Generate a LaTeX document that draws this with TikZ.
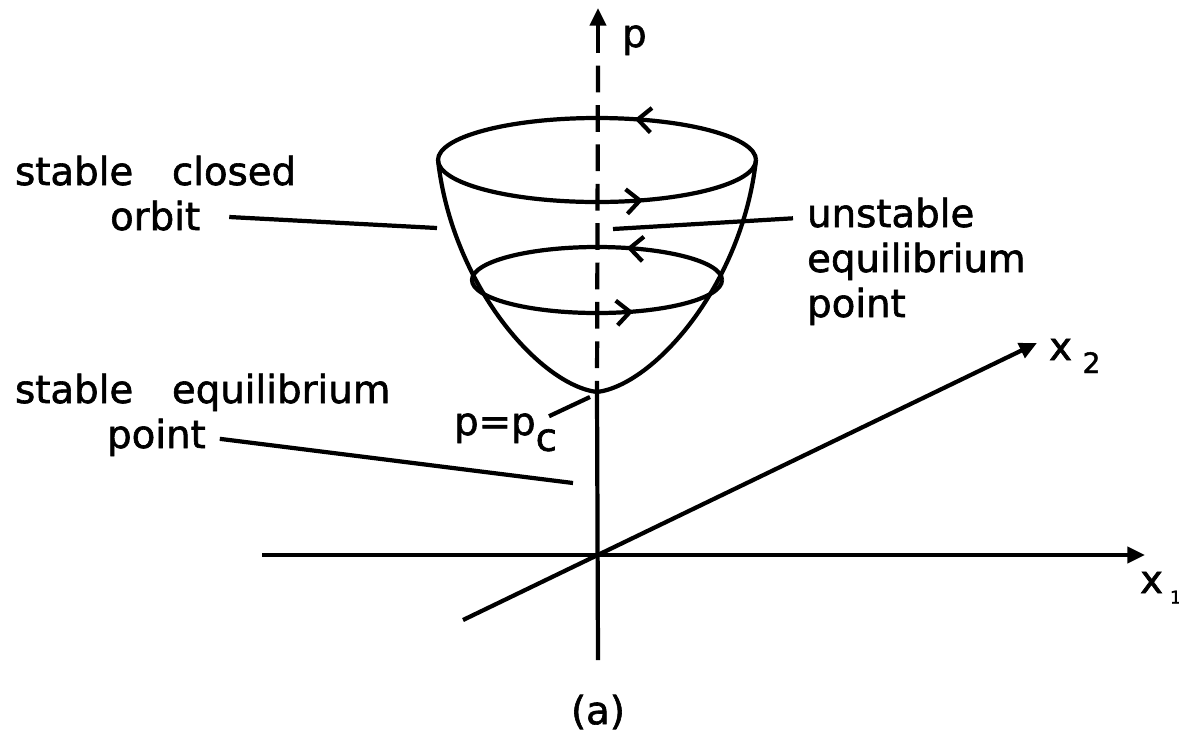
\documentclass[tikz,border=0pt]{standalone}
\usepackage{fontspec}
\newfontfamily\lettering[RawFeature={embolden=1.6}]{DejaVu Sans}
\usetikzlibrary{arrows.meta,decorations.markings}

\begin{document}
\begin{tikzpicture}[x=0.01cm, y=0.01cm, line width=1.2pt,
		txt/.style={inner sep=0pt, anchor=base west, font=\fontsize{11}{12.8}\lettering},
		axis/.style={-{Triangle[length=5pt,width=4.5pt]}},
		orbit/.style={postaction={decorate}, decoration={markings,
			mark=at position 0.195 with {\arrow{Straight Barb[length=3.8pt,width=7pt]}},
			mark=at position 0.817 with {\arrow{Straight Barb[length=3.8pt,width=7pt]}}}}]
		\useasboundingbox (0,0) rectangle (1179,750);
		
		% axes
		\coordinate (O) at (598,195);
		\coordinate (xleft) at (262,195);
		\coordinate (xright) at (1145,195);
		\coordinate (ylow) at (463,130);
		\coordinate (yhigh) at (1037,407);
		\coordinate (pbot) at (598,90);
		\coordinate (bowl) at (597,358);
		\coordinate (ptop) at (598,697);
		\coordinate (ptip) at (598,742);
		\draw[axis] (xleft) -- (xright);
		\draw[axis] (ylow) -- (yhigh);
		\draw (pbot) -- (bowl);
		\draw[dash pattern=on 7.6pt off 3.6pt, dash phase=7.6pt] (ptop) -- (bowl);
		\draw[axis] (ptop) -- (ptip);
		
		% bowl and orbits
		\coordinate (topc) at (597,590);
		\coordinate (lowc) at (597,470);
		\draw (438,590) .. controls (452,465) and (540,365) .. (bowl);
		\draw (756,590) .. controls (742,465) and (654,365) .. (bowl);
		\draw[orbit] (topc) ++(159,0) arc[start angle=0, end angle=360, x radius=159, y radius=42];
		\draw[orbit] (lowc) ++(125,0) arc[start angle=0, end angle=360, x radius=125, y radius=33];
		
		% labels
		\node[txt] (closed) at (13,565) {stable\quad closed};
		\node[txt] (orbit) at (108,520) {orbit};
		\node[txt] (stableeq) at (13,347) {stable\quad equilibrium};
		\node[txt] (spoint) at (105,302) {point};
		\node[txt] (unstable) at (805,523) {unstable};
		\node[txt] (ueq) at (805,478) {equilibrium};
		\node[txt] (upoint) at (805,433) {point};
		\node[txt] (pc) at (452,315) {p=p\raisebox{-4.5pt}{c}};
		\node[txt] (plabel) at (620,703) {p};
		\node[txt] (xone) at (1138,157) {x\hspace{2pt}\raisebox{-3pt}{\tiny 1}};
		\node[txt] (xtwo) at (1047,390) {x\hspace{3pt}\raisebox{-3.7pt}{\footnotesize 2}};
		\node[txt, anchor=center] (cap) at (598,38) {(a)};
		
		% leaders
		\coordinate (orbitpt) at (437,522);
		\coordinate (stablept) at (573,267);
		\coordinate (unstpt) at (613,521);
		\coordinate (pcpt) at (590,353);
		\draw[shorten <=0.27cm] (orbit.east) -- (orbitpt);
		\draw[shorten <=0.12cm] (spoint.east) -- (stablept);
		\draw[shorten <=0.12cm] ([yshift=-0.05cm]unstable.west) -- (unstpt);
		\draw ([xshift=-0.1cm, yshift=-0.05cm]pc.north east) -- (pcpt);
\end{tikzpicture}
\end{document}
